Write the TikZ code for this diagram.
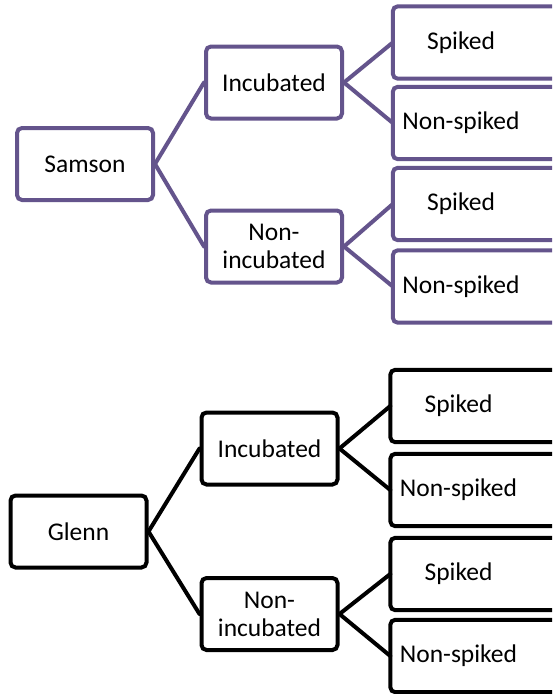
\documentclass[tikz,border=0pt]{standalone}
\usepackage{fontspec}
\setmainfont{Carlito}
\usepackage{tikz}
\usetikzlibrary{positioning}

\definecolor{treepurple}{RGB}{100,84,140}

\begin{document}
\begin{tikzpicture}[x=1pt, y=-1pt,
    font=\fontsize{25.5}{28}\selectfont,
    branch/.style={line width=4pt, line cap=round},
    box/.style={draw, rounded corners=5pt, line width=4pt, fill=white,
                minimum width=136pt, minimum height=72pt, align=center, inner sep=0pt},
    leaf/.style={minimum width=136pt, minimum height=72pt, inner sep=0pt,
                 append after command={
                   \pgfextra{\draw[rounded corners=5pt, line width=4pt, fill=white]
                     (\tikzlastnode.north west) rectangle ([xshift=90pt]\tikzlastnode.south east);}}},
  ]
  \clip (0,0) rectangle (552,694);
  \fill[white] (0,0) rectangle (552,694);

  % Samson tree
  \begin{scope}[draw=treepurple, color=treepurple]
    \node[box, text=black] (samson) at (85,164) {Samson};
    \node[box, text=black] (incS) at (274,82.5) {Incubated};
    \node[box, text=black] (nonincS) at (274,246.5) {Non-\\incubated};
    \node[leaf, text=black] (spS1) at (461,42.5) {Spiked};
    \node[leaf, text=black] (nspS1) at (461,123) {Non-spiked};
    \node[leaf, text=black] (spS2) at (461,204) {Spiked};
    \node[leaf, text=black] (nspS2) at (461,286.5) {Non-spiked};

    \draw[branch] (samson.east) -- (incS.west);
    \draw[branch] (samson.east) -- (nonincS.west);
    \draw[branch] (incS.east) -- (spS1.west);
    \draw[branch] (incS.east) -- (nspS1.west);
    \draw[branch] (nonincS.east) -- (spS2.west);
    \draw[branch] (nonincS.east) -- (nspS2.west);
  \end{scope}

  % Glenn tree
  \begin{scope}[draw=black, color=black]
    \node[box] (glenn) at (78.5,531.5) {Glenn};
    \node[box] (incG) at (269.5,448.5) {Incubated};
    \node[box] (nonincG) at (269.5,614) {Non-\\incubated};
    \node[leaf] (spG1) at (458.5,406) {Spiked};
    \node[leaf] (nspG1) at (458.5,490) {Non-spiked};
    \node[leaf] (spG2) at (458.5,574) {Spiked};
    \node[leaf] (nspG2) at (458.5,656) {Non-spiked};

    \draw[branch] (glenn.east) -- (incG.west);
    \draw[branch] (glenn.east) -- (nonincG.west);
    \draw[branch] (incG.east) -- (spG1.west);
    \draw[branch] (incG.east) -- (nspG1.west);
    \draw[branch] (nonincG.east) -- (spG2.west);
    \draw[branch] (nonincG.east) -- (nspG2.west);
  \end{scope}
\end{tikzpicture}
\end{document}
